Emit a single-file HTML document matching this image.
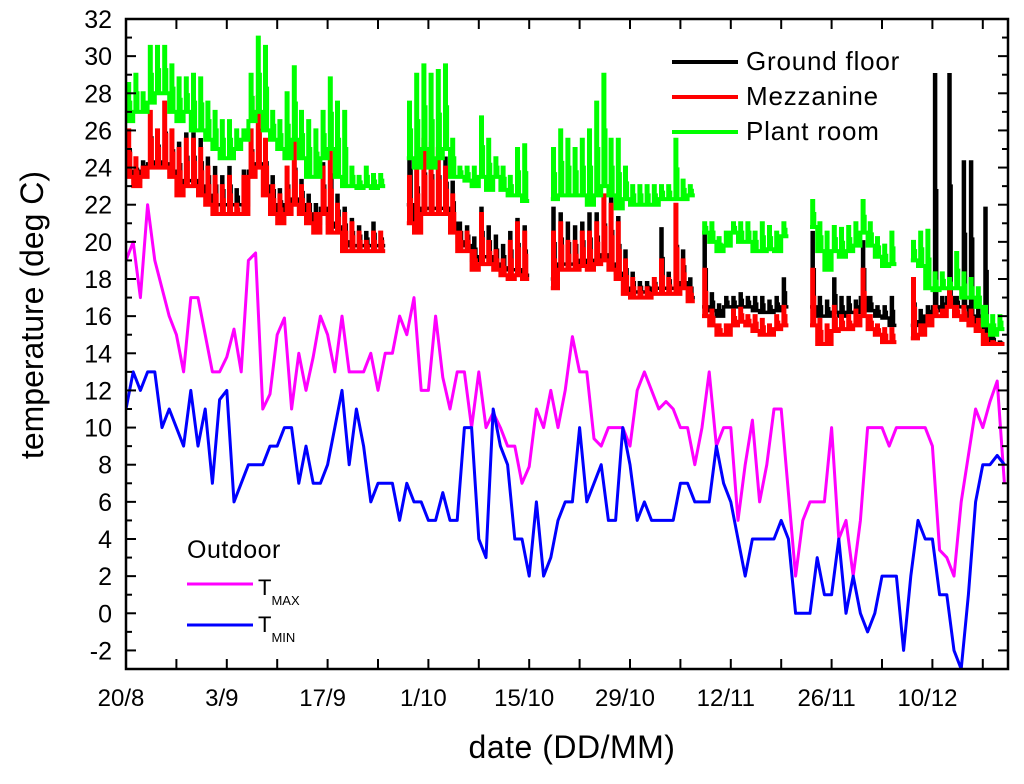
<!DOCTYPE html>
<html><head><meta charset="utf-8"><style>
body{margin:0;background:#fff;}
svg text{font-family:"Liberation Sans",Arial,sans-serif;}
</style></head><body>
<svg id="chart" width="1024" height="779" viewBox="0 0 1024 779" xmlns="http://www.w3.org/2000/svg">
<g id="plot"></g>
<g id="axes"></g>
<text x="572" y="758" font-size="32" text-anchor="middle" letter-spacing="0.5">date (DD/MM)</text>
<text transform="translate(43,315) rotate(-90)" font-size="32" text-anchor="middle">temperature (deg C)</text>
<g>
 <line x1="672" y1="62" x2="738" y2="62" stroke="#000" stroke-width="4"/>
 <text x="746" y="70" font-size="26" letter-spacing="0.8">Ground floor</text>
 <line x1="672" y1="97" x2="738" y2="97" stroke="#f00" stroke-width="4"/>
 <text x="746" y="105" font-size="26" letter-spacing="0.8">Mezzanine</text>
 <line x1="672" y1="132" x2="738" y2="132" stroke="#0f0" stroke-width="4"/>
 <text x="746" y="140" font-size="26" letter-spacing="0.8">Plant room</text>
</g>
<g>
 <text x="187" y="558" font-size="25" letter-spacing="0.5">Outdoor</text>
 <line x1="187" y1="584" x2="253" y2="584" stroke="#f0f" stroke-width="3"/>
 <text x="258" y="595" font-size="22">T<tspan font-size="13" dy="10">MAX</tspan></text>
 <line x1="187" y1="625" x2="253" y2="625" stroke="#00f" stroke-width="3"/>
 <text x="258" y="632" font-size="22">T<tspan font-size="13" dy="10">MIN</tspan></text>
</g>
</svg>
<script>
const xTickLabels=["20/8","3/9","17/9","1/10","15/10","29/10","12/11","26/11","10/12"];
const yTicks=[-2,0,2,4,6,8,10,12,14,16,18,20,22,24,26,28,30,32];
const tMax=[19,20,17,22,19,17.5,16,15,13,17,17,15,13,13,13.8,15.3,13,19,19.4,11,11.8,15,15.9,11,14,12,13.8,16,15,13,16,13,13,13,14,12,14,14,16,15,17,12,12,16,12.7,11,13,13,10,13,10,10.8,10,9,9,7,7.9,11,10,12,10,12,14.9,13,13,9.4,9,10,10,10,9,12,13,12,11,11.4,11,10,10,8,10,13,9,10,10,5,8,10.4,6,8,11,11,6.5,2,5,6,6,6,10,4,5,2,5,10,10,10,9,10,10,10,10,10,9,3.4,3,2,6,8.5,11,10,11.4,12.5,7];
const tMin=[11,13,12,13,13,10,11,10,9,12,9,11,7,11.5,12,6,7,8,8,8,9,9,10,10,7,9,7,7,8,10,12,8,11,9,6,7,7,7,5,7,6,6,5,5,6.5,5,5,10,10,4,3,11,9,8,4,4,2,6,2,3,5,6,6,10,6,7,8,5,5,10,8,5,6,5,5,5,5,7,7,6,6,6,9,7,6,4,2,4,4,4,4,5,4,0,0,0,3,1,1,4,0,2,0,-1,0,2,2,2,-2,2,5,4,4,1,1,-2,-3,1,6,8,8,8.5,8];
const N=null;
const greenMax=[28.5,29,28,30.5,30.5,30.5,29.5,28.8,28.8,29,28.8,27.5,27,26.5,26.5,26,26,29,31,30.5,27,26.5,28,29.4,27,26.5,26,27,28.8,27.5,27,24,23.5,24,23.6,23.6,N,N,N,27.5,29,29.5,29,29.2,29.5,25.5,24,24,24,26.7,25.5,24.5,24,23.5,25,25.2,N,N,N,25,26,25.5,25,25.5,26,27.5,29,25.5,25.5,24,23,23,23,23,23,23,25.5,23.3,23,N,21,21,20.2,20.5,21,21,21,20.5,21,20.8,20.5,21,N,N,N,22.2,21,20.5,20.8,20.7,20.8,21,22.2,21,20.2,19.8,20.5,N,N,20,20.5,20.6,18.3,18.3,18,19.4,18.3,18,17.5,16.5,16,16];
const greenMin=[26.5,27,27,27.5,28,28,27,26.5,27,26,26,25.5,25,24.5,24.5,25,25.5,26.5,27,26,25.5,25,24.5,25.5,24.5,23.5,23.5,24.5,25,23.5,23,23,22.9,23,22.9,23,N,N,N,24.5,24,25,24,24.5,25,23.5,23.5,23.3,23,23.5,22.8,23.5,22.8,22.5,22.5,22.2,N,N,N,22.3,22.5,22.5,22.5,22.5,22,22.5,23,22.5,21.8,22.3,22,22,22,22,22.3,22.3,22.3,22.3,22.5,N,20.5,20,19.5,19.8,20.5,20,20,19.5,19.5,19.6,19.5,20.3,N,N,N,20.8,19.5,18.5,19.5,19.2,19.5,19.8,20.5,19.8,19.2,18.7,18.8,N,N,19,18.7,17.5,17.4,17.5,17.5,17.5,17,17,16.5,15.5,15,15.3];
const redMax=[26,24.5,24,27,26,27.5,26,25,25.5,25.5,25,24,23.5,23,23.5,22,23.5,26,27.8,25.5,23,22.5,24,25.5,23,22,21.5,24,25,22,21.5,21,20.5,20,20.5,20.5,N,N,N,23.5,24.5,25.5,25,25,24,22.5,20.5,20.5,19.5,21.5,20,19.5,19,20,21,20.5,N,N,N,20.5,21,20,20,20.5,20.5,21,22.5,22,21,19,18,17.5,17.5,18,19,18,22,19,17.5,N,18.5,16.3,15.5,15.5,16.3,16.4,16,16,15.8,15.5,16,16.5,N,N,N,18.5,15.8,15.5,16.5,16,16,16.3,18.5,16,15.5,15.3,15.3,N,N,18,15.5,16,16.5,16.3,17.5,16.5,16.5,16.3,15.8,15,14.6,14.5];
const redMin=[23.5,23,23.5,24,24,24,23.5,22.5,23,23,22.5,22,21.5,21.5,21.5,21.5,21.5,23.5,24,22.5,21.5,21,21.5,22,21.5,21,20.5,21.5,20.5,20.5,19.5,19.5,19.5,19.5,19.5,19.5,N,N,N,21,20.5,21.5,21.5,21.5,21.5,20.5,19.5,19.5,18.5,18.8,18.8,18.5,18.2,18,18.2,18,N,N,N,17.5,18.5,18.5,18.5,18.7,18.5,18.8,19,18.5,18,17.2,17,17,17,17.2,17.2,17.2,17.2,17.5,16.8,N,16,15.5,15,15,15.5,15.7,15.5,15.2,15,15,15.3,15.5,N,N,N,15.5,14.5,14.5,15.2,15.3,15.3,15.5,16,15.3,15,14.6,14.6,N,N,14.8,15,15.5,16,16,16.5,16,15.8,15.5,15.2,14.5,14.5,14.5];
const blackMax=[26,24.5,24.3,27,26,27.5,26,25.3,25.8,25.8,25.5,24.5,24,23.5,24,22.8,23.8,26,27.8,25.5,23.5,22.8,24,25.5,23.3,22.5,22,24.2,26.2,22.5,21.8,21.2,20.8,20.5,21,20.5,N,N,N,25.7,24.8,25.5,25.3,25.2,24.5,23.2,21,20.8,20.2,21.8,20.8,20.3,19.8,20.5,21.2,20.8,N,N,N,21.8,21.5,21,20.8,21,21.5,21.5,22.5,22.3,21.3,19.5,18.3,17.8,17.8,18,20.7,18.3,22,19.5,18,N,20.5,17.2,16.6,17,17,17.2,17,17,17,16.8,17,18,N,N,N,20.5,17,16.8,18,17,17,16.8,20,17,16.5,16.5,17,N,N,17.8,16.3,16.5,29,17,29,17,24.3,24.3,16.5,21.8,15,14.6];
const blackMin=[23.8,23.3,23.8,24.2,24.3,24.2,23.8,23,23.3,23.3,23,22.5,22,22,22,22,22,23.8,24.2,23,22,21.5,22,22.3,22,21.5,21,21.8,21,20.8,20,19.8,19.8,19.8,19.8,19.8,N,N,N,22,21,21.8,21.8,21.8,21.8,21,20,19.8,19,19.2,19.2,18.8,18.6,18.5,18.5,18.2,N,N,N,18,18.8,18.8,18.8,19,18.8,19,19.3,18.8,18.3,17.5,17.3,17.3,17.3,17.5,17.5,17.5,17.5,17.8,17,N,16.5,16.3,16,16.5,16.5,16.5,16.5,16.3,16.2,16.2,16.3,16.5,N,N,N,16.5,16,16,16.2,16,16.2,16.2,17,16.3,16,15.9,15.5,N,N,15.5,15.7,16,16.5,16.3,17,16.5,16.5,16,15.5,15,14.5,14.5];

const X0=126,X1=1008,Y0=19,Y1=669;
const dayMin=0,dayMax=122.5,vMin=-3,vMax=32;
function xs(d){return X0+(d-dayMin)/(dayMax-dayMin)*(X1-X0);}
function ys(v){return Y1-(v-vMin)/(vMax-vMin)*(Y1-Y0);}
const NS="http://www.w3.org/2000/svg";
const plot=document.getElementById('plot');
const axes=document.getElementById('axes');
function mk(tag,attrs,parent){const e=document.createElementNS(NS,tag);for(const k in attrs)e.setAttribute(k,attrs[k]);parent.appendChild(e);return e;}

function indoorPath(mx,mn){
  let d="",open=false;
  for(let i=0;i<mx.length;i++){
    if(mx[i]===null){open=false;continue;}
    const lo=mn[i],hi=mx[i];
    const pts=[[i,lo],[i+0.3,lo],[i+0.3,hi],[i+0.45,hi],[i+0.45,(lo+hi)/2],[i+0.6,(lo+hi)/2],[i+0.6,lo],[i+1,lo]];
    pts.forEach((p,j)=>{d+=(j===0&&!open?"M":"L")+xs(p[0]).toFixed(1)+","+ys(p[1]).toFixed(1)+" ";});
    open=true;
  }
  return d;
}
function outdoorPath(arr){
  return arr.map((v,i)=>(i?"L":"M")+xs(i).toFixed(1)+","+ys(v).toFixed(1)).join(" ");
}
const cp=mk('clipPath',{id:'clip'},plot);
mk('rect',{x:X0,y:Y0,width:X1-X0,height:Y1-Y0},cp);
const g=mk('g',{'clip-path':'url(#clip)'},plot);
let p;
p=mk('path',{d:outdoorPath(tMax),fill:'none',stroke:'#f0f','stroke-width':3,'stroke-linejoin':'round'},g);


p=mk('path',{d:outdoorPath(tMin),fill:'none',stroke:'#00f','stroke-width':3,'stroke-linejoin':'round'},g);


p=mk('path',{d:indoorPath(blackMax,blackMin),fill:'none',stroke:'#000','stroke-width':3.5},g);


p=mk('path',{d:indoorPath(redMax,redMin),fill:'none',stroke:'#f00','stroke-width':4},g);


p=mk('path',{d:indoorPath(greenMax,greenMin),fill:'none',stroke:'#0f0','stroke-width':4},g);



let fr=mk('rect',{x:X0,y:Y0,width:X1-X0,height:Y1-Y0,fill:'none',stroke:'#000','stroke-width':2.5},axes);


for(let v=vMin;v<=vMax;v++){
  const y=ys(v),L=(v%2===0)?10:6;
  mk('line',{x1:X0,y1:y,x2:X0+L,y2:y,stroke:'#000','stroke-width':2},axes);
  mk('line',{x1:X1,y1:y,x2:X1-L,y2:y,stroke:'#000','stroke-width':2},axes);
}
yTicks.forEach(v=>{
  const t=mk('text',{x:X0-14,y:ys(v)+9,'font-size':25,'text-anchor':'end'},axes);
  t.textContent=v;
  
  
});
for(let d=0;d<=dayMax;d+=7){
  const x=xs(d);
  mk('line',{x1:x,y1:Y1,x2:x,y2:Y1-10,stroke:'#000','stroke-width':2},axes);
  mk('line',{x1:x,y1:Y0,x2:x,y2:Y0+10,stroke:'#000','stroke-width':2},axes);
}
xTickLabels.forEach((s,i)=>{
  const t=mk('text',{x:xs(i*14)-5,y:706,'font-size':24,'text-anchor':'middle'},axes);
  t.textContent=s;
  
  
});
</script>
</body></html>
